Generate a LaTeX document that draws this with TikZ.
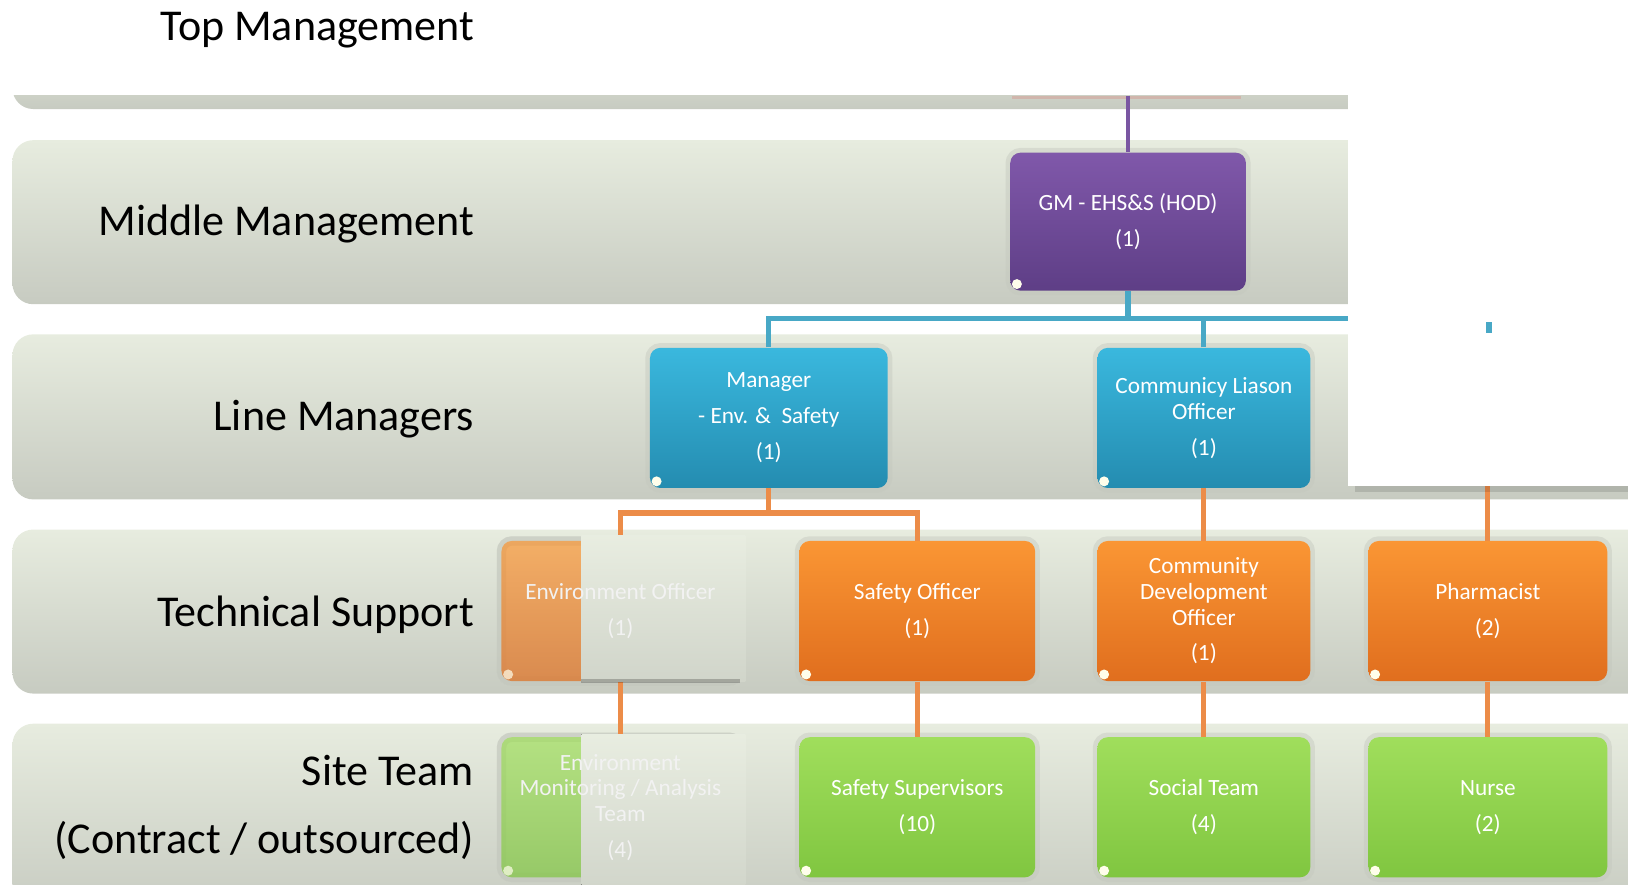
\documentclass[tikz,border=0pt]{standalone}
\usepackage{fontspec}
\setmainfont{Carlito}
\usetikzlibrary{calc}

\definecolor{bandtop}{RGB}{231,236,223}
\definecolor{bandbot}{RGB}{199,203,193}
\definecolor{halo}{RGB}{196,200,190}
\definecolor{purpletop}{RGB}{128,88,170}
\definecolor{purplebot}{RGB}{94,62,134}
\definecolor{bluetop}{RGB}{58,184,222}
\definecolor{bluebot}{RGB}{36,140,176}
\definecolor{orangetop}{RGB}{250,150,52}
\definecolor{orangebot}{RGB}{224,110,30}
\definecolor{greentop}{RGB}{160,222,92}
\definecolor{greenbot}{RGB}{128,198,64}
\definecolor{purpleline}{RGB}{122,86,162}
\definecolor{blueline}{RGB}{72,168,198}
\definecolor{orangeline}{RGB}{236,140,72}

\begin{document}
\begin{tikzpicture}[x=0.5pt, y=-0.5pt,
    band/.style={rounded corners=10pt, top color=bandtop, bottom color=bandbot},
    level/.style={anchor=base east, inner sep=0pt, font=\fontsize{21.2}{25}\selectfont},
    orgbox/.style={rounded corners=5pt, inner sep=0pt, align=center, text=white,
        font=\fontsize{11.2}{12.3}\selectfont, minimum height=67.5pt,
        preaction={draw=halo, line width=4.5pt, opacity=.45},
        path picture={\fill[white!92!yellow] ([shift={(3.2pt,3.2pt)}]path picture bounding box.south west) circle (2.4pt);}},
    purplebox/.style={orgbox, top color=purpletop, bottom color=purplebot},
    bluebox/.style={orgbox, top color=bluetop, bottom color=bluebot},
    orangebox/.style={orgbox, top color=orangetop, bottom color=orangebot},
    greenbox/.style={orgbox, top color=greentop, bottom color=greenbot},
    fadebox/.style={orgbox, opacity=.7},
    fadetext/.style={align=center, text=white!90!gray, font=\fontsize{11.2}{12.3}\selectfont},
    cover/.style={top color=bandtop!95!white, bottom color=bandbot!70!bandtop},
    link/.style={line width=2.5pt},
]

    % ==========================================
    % frame and bands
    % ==========================================
    \useasboundingbox (0,0) rectangle (1568,852);
    \clip (0,0) rectangle (1568,852);

    \begin{scope}
        \clip (0,92) rectangle (1568,120);
        \path[band] (12,30) rectangle (1600,105);
    \end{scope}
    \fill[red!30!bandbot, opacity=.4] (975,92) rectangle (1195,95);
    \path[band] (12,135) rectangle (1600,293);
    \path[band] (12,322) rectangle (1600,481);
    \path[band] (12,510) rectangle (1600,668);
    \path[band] (12,697) rectangle (1600,880);

    % level names
    \node[level] (ltop) at (457,39) {Top Management};
    \node[level] (lmid) at (457,227) {Middle Management};
    \node[level] (lline) at (457,415) {Line Managers};
    \node[level] (ltech) at (457,603) {Technical Support};
    \node[level] (lsite) at (457,757) {Site Team};
    \node[level] (lcontract) at (457,822) {(Contract / outsourced)};

    % ==========================================
    % boxes
    % ==========================================
    \node[purplebox, minimum width=113.5pt, minimum height=66.5pt] (gm) at (1086.5,213.5) {GM - EHS\&S (HOD)\\[5pt](1)};

    \node[bluebox, minimum width=114.5pt] (mgr) at (740.5,402.5) {Manager\\[5pt]- Env. \&~ Safety\\[5pt](1)};
    \node[bluebox, minimum width=102.5pt] (clo) at (1159.5,402.5) {Communicy Liason\\Officer\\[5pt](1)};

    \node[orangebox, fadebox, minimum width=114.5pt] (envo) at (597.5,588.5) {};
    \node[orangebox, minimum width=113.5pt] (safo) at (883.5,588.5) {Safety Officer\\[5pt](1)};
    \node[orangebox, minimum width=102.5pt] (cdo) at (1159.5,588.5) {Community\\Development\\Officer\\[5pt](1)};
    \node[orangebox, minimum width=115pt] (pharm) at (1433,588.5) {Pharmacist\\[5pt](2)};

    \node[greenbox, fadebox, minimum width=114.5pt] (envs) at (597.5,777.5) {};
    \node[greenbox, minimum width=113.5pt] (safs) at (883.5,777.5) {Safety Supervisors\\[5pt](10)};
    \node[greenbox, minimum width=102.5pt] (soc) at (1159.5,777.5) {Social Team\\[5pt](4)};
    \node[greenbox, minimum width=115pt] (nurse) at (1433,777.5) {Nurse\\[5pt](2)};

    % ==========================================
    % connectors
    % ==========================================
    \coordinate (topend) at (1086.5,92);
    \coordinate (bbus) at (1568,307);
    \coordinate (obus) at (0,494);
    \coordinate (pend) at (1433,440);

    \draw[purpleline, line width=1.6pt] (topend) -- (gm.north);
    \draw[link, blueline] (gm.south) -- (gm.south |- bbus);
    \draw[link, blueline] (mgr.north) |- (bbus);
    \draw[link, blueline] (clo.north) -- (clo.north |- bbus);

    \draw[link, orangeline] (mgr.south) -- (mgr.south |- obus);
    \draw[link, orangeline] (envo.north) |- (mgr.south |- obus) -| (safo.north);
    \draw[link, orangeline] (clo.south) -- (cdo.north);
    \draw[link, orangeline] (pend) -- (pharm.north);
    \foreach \a/\b in {envo/envs, safo/safs, cdo/soc, pharm/nurse}
        \draw[link, orangeline] (\a.south) -- (\b.north);

    % ==========================================
    % patches laid over the chart
    % ==========================================
    \fill[black, opacity=.12] (1305,466) rectangle (1568,474);
    \fill[white] (1298,-10) rectangle (1600,468);
    \fill[blueline] (1431,310) rectangle (1437,321);

    \fill[cover] (560,516) rectangle (718,656);
    \fill[black, opacity=.22] (560,654) rectangle (713,658);
    \fill[cover] (560,707) rectangle (718,860);

    \node[fadetext] (envot) at (envo) {Environment Officer\\[5pt](1)};
    \node[fadetext] (envst) at (envs) {Environment\\Monitoring / Analysis\\Team\\[5pt](4)};

\end{tikzpicture}
\end{document}
